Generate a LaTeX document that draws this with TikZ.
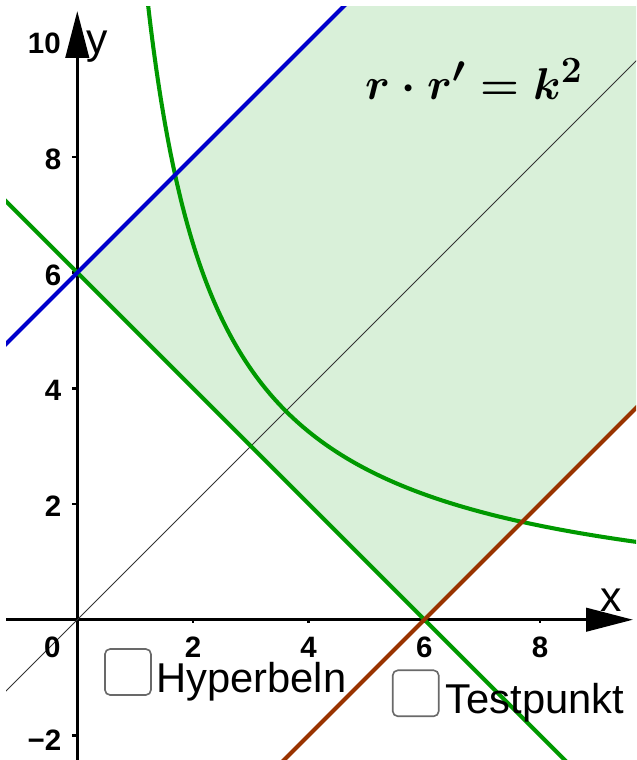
\documentclass[tikz,border=0pt]{standalone}
\usepackage{amsmath}
\usepackage[no-math]{fontspec}
\setmainfont{Liberation Sans}
\usetikzlibrary{arrows.meta,positioning}
\definecolor{ggreen}{RGB}{0,153,0}
\definecolor{gblue}{RGB}{0,0,204}
\definecolor{gbrown}{RGB}{153,51,0}
\definecolor{gfill}{RGB}{217,240,217}
\definecolor{gframe}{RGB}{105,105,105}

\begin{document}
\begin{tikzpicture}[
    x=1cm,y=1cm,
    axis/.style={line width=1.4pt,-{Triangle[length=23pt,width=11.5pt]}},
    tick/.style={line width=1.2pt},
    graph/.style={line width=2pt},
    ticklab/.style={font=\fontsize{14.5}{17}\selectfont\bfseries,inner sep=0pt},
    axlab/.style={font=\fontsize{21}{25}\selectfont,inner sep=0pt,anchor=base west},
    formula/.style={font=\Huge\boldmath,inner sep=0pt,anchor=base west},
    cbox/.style={draw=gframe,line width=0.8pt,rounded corners=2.5pt,
                 minimum size=0.795cm,inner sep=0pt},
    cblabel/.style={font=\fontsize{20.5}{24}\selectfont,inner sep=0pt},
  ]
  \useasboundingbox (-1.336,-2.425) rectangle (9.658,10.712);

  \begin{scope}
    \clip (-1.232,-2.425) rectangle (9.658,10.608);
    \fill[gfill] (0,6) -- (5,11) -- (10,11) -- (10,4) -- (6,0) -- cycle;

    \coordinate (xleft) at (-1.232,0);
    \coordinate (xright) at (9.605,0);
    \coordinate (ybot) at (0,-2.5);
    \coordinate (ytop) at (0,10.52);
    \draw[axis] (xleft) -- (xright);
    \draw[axis] (ybot) -- (ytop);
    \draw[tick] (2,0) -- (2,-0.06) (4,0) -- (4,-0.06) (6,0) -- (6,-0.06) (8,0) -- (8,-0.06)
      (0,-2) -- (-0.09,-2) (0,2) -- (-0.09,2) (0,4) -- (-0.09,4)
      (0,6) -- (-0.09,6) (0,8) -- (-0.09,8) (0,10) -- (-0.09,10);

    \draw[line width=0.5pt,black!80] (-3,-3) -- (11,11);
    \draw[graph,ggreen] (-2,8) -- (9,-3);
    \draw[graph,ggreen] plot[domain=1.2:9.7,samples=150,smooth] (\x,{13/\x});
    \draw[graph,gblue] (-2,4) -- (5,11);
    \draw[graph,gbrown] (3,-3) -- (10,4);
  \end{scope}

  \node[ticklab] (xzero) at (-0.43,-0.47) {0};
  \node[ticklab] (xtwo) at (2,-0.47) {2};
  \node[ticklab] (xfour) at (4,-0.47) {4};
  \node[ticklab] (xsix) at (6,-0.47) {6};
  \node[ticklab] (xeight) at (8,-0.47) {8};
  \node[ticklab,anchor=east] (ymtwo) at (-0.27,-2.08) {−2};
  \node[ticklab,anchor=east] (ytwo) at (-0.27,1.96) {2};
  \node[ticklab,anchor=east] (yfour) at (-0.27,3.96) {4};
  \node[ticklab,anchor=east] (ysix) at (-0.27,5.96) {6};
  \node[ticklab,anchor=east] (yeight) at (-0.27,7.96) {8};
  \node[ticklab,anchor=east] (yten) at (-0.28,9.97) {10};

  \node[axlab] (xlab) at (9.03,0.138) {x};
  \node[axlab] (ylab) at (0.16,9.784) {y};

  \node[formula] (law) at (4.97,9.0) {\scalebox{0.88}{$r\cdot r'=k^2$}};

  \node[cbox] (boxhyp) at (0.876,-0.904) {};
  \node[cblabel,right=0.07 of boxhyp.south east,anchor=base west,yshift=1.5pt] (hyp)
    {Hyperbeln};
  \node[cbox] (boxtest) at (5.85,-1.272) {};
  \node[cblabel,right=0.1 of boxtest.south east,anchor=base west,yshift=2pt] (test)
    {Testpunkt};
\end{tikzpicture}
\end{document}
